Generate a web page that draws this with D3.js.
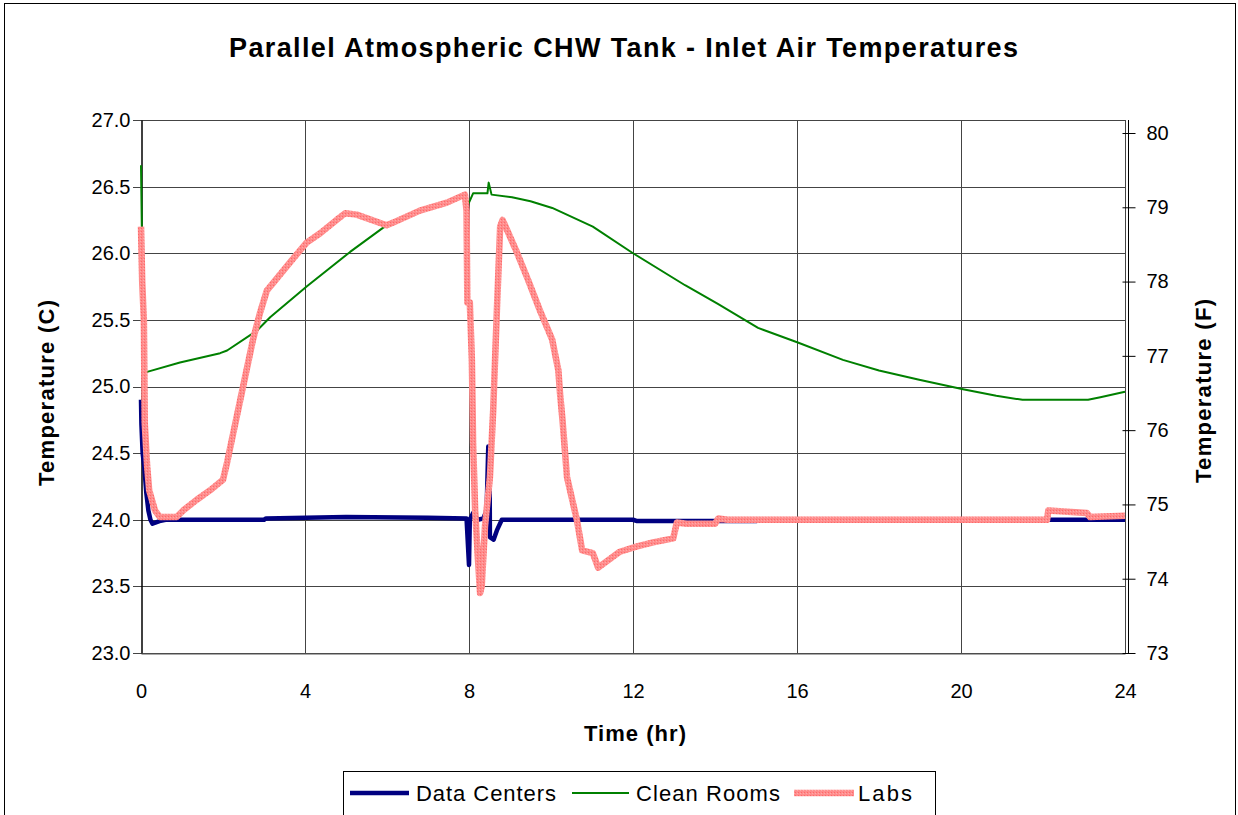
<!DOCTYPE html>
<html>
<head>
<meta charset="utf-8">
<script src="https://cdn.jsdelivr.net/npm/d3@7"></script>
<style>
  html, body { margin: 0; padding: 0; background: #fff; }
  svg { display: block; font-family: "Liberation Sans", Arial, sans-serif; }
</style>
</head>
<body>
<svg id="chart" width="1238" height="815"></svg>
<script>
// ---- data ----
const xTicks = [0, 4, 8, 12, 16, 20, 24];
const yTicksC = [23.0, 23.5, 24.0, 24.5, 25.0, 25.5, 26.0, 26.5, 27.0];
const yTicksF = [73, 74, 75, 76, 77, 78, 79, 80];
const seriesNames = ["Data Centers", "Clean Rooms", "Labs"];

const dataCentersT = [0, 0.01, 0.04, 0.08, 0.13, 0.18, 0.23, 0.28, 0.45, 0.6, 3.0, 3.05, 5.0, 7.0, 7.94, 8.0, 8.02, 8.1, 8.22, 8.35, 8.43, 8.47, 8.5, 8.51, 8.6, 8.68, 8.8, 12.0, 12.1, 15.0, 15.1, 24.0];
const dataCentersV = [24.9, 24.72, 24.5, 24.4, 24.2, 24.07, 24.0, 23.97, 23.99, 24.0, 24.0, 24.01, 24.02, 24.015, 24.01, 23.66, 24.0, 24.05, 24.0, 24.01, 24.07, 24.55, 24.55, 23.87, 23.85, 23.92, 24.0, 24.0, 23.99, 23.99, 24.0, 24.0];

const cleanRoomsT = [0, 0.02, 0.1, 0.15, 0.95, 1.93, 2.1, 2.83, 3.15, 4.04, 5.1, 5.9, 6.8, 7.85, 8.0, 8.1, 8.45, 8.48, 8.55, 9.05, 9.5, 10.03, 11.02, 12.0, 13.27, 14.07, 15.05, 16.02, 17.12, 18.0, 18.98, 20.05, 20.86, 21.5, 23.1, 23.4, 24.0];
const cleanRoomsV = [26.66, 26.2, 25.11, 25.11, 25.18, 25.25, 25.27, 25.42, 25.52, 25.75, 26.01, 26.19, 26.32, 26.42, 26.38, 26.45, 26.45, 26.53, 26.44, 26.42, 26.39, 26.34, 26.2, 26.0, 25.76, 25.62, 25.44, 25.33, 25.2, 25.12, 25.05, 24.98, 24.93, 24.9, 24.9, 24.92, 24.96];

const labsT = [0, 0.03, 0.07, 0.09, 0.15, 0.2, 0.34, 0.46, 0.87, 1.03, 1.36, 1.68, 2.0, 2.1, 2.25, 2.49, 2.73, 2.9, 3.07, 3.23, 3.63, 4.04, 4.37, 4.77, 4.98, 5.26, 5.99, 6.15, 6.8, 7.46, 7.9, 7.94, 7.96, 8.02, 8.07, 8.1, 8.15, 8.22, 8.27, 8.31, 8.39, 8.51, 8.59, 8.68, 8.76, 8.82, 9.15, 9.44, 9.73, 10.03, 10.18, 10.22, 10.28, 10.39, 10.63, 10.76, 11.02, 11.15, 11.68, 12.1, 12.49, 12.98, 13.07, 13.3, 14.0, 14.08, 14.3, 22.1, 22.13, 23.07, 23.15, 24.0];
const labsV = [26.2, 25.78, 25.5, 24.73, 24.4, 24.22, 24.07, 24.02, 24.02, 24.07, 24.15, 24.22, 24.3, 24.43, 24.65, 25.0, 25.35, 25.55, 25.72, 25.78, 25.93, 26.08, 26.15, 26.25, 26.3, 26.29, 26.21, 26.23, 26.32, 26.38, 26.44, 26.32, 25.63, 25.63, 25.2, 24.58, 24.07, 23.7, 23.45, 23.5, 23.95, 24.32, 24.82, 25.57, 26.2, 26.25, 26.02, 25.8, 25.57, 25.35, 25.12, 24.95, 24.75, 24.32, 24.0, 23.77, 23.75, 23.64, 23.76, 23.8, 23.83, 23.86, 23.98, 23.97, 23.97, 24.01, 24.0, 24.0, 24.07, 24.05, 24.02, 24.03];

// ---- layout ----
const svg = d3.select("#chart");
const L = 141, R = 1125, T = 120, B = 653;
const x = d3.scaleLinear().domain([0, 24]).range([L, R]);
const y = d3.scaleLinear().domain([23, 27]).range([B, T]);
const yF = d3.scaleLinear().domain([73, 80.175]).range([B, T]);

// patterned stroke for Labs
const defs = svg.append("defs");
const pat = defs.append("pattern").attr("id", "labsPat").attr("patternUnits", "userSpaceOnUse")
  .attr("width", 3).attr("height", 3);
pat.append("rect").attr("width", 3).attr("height", 3).attr("fill", "#ff8c8c");
pat.append("rect").attr("x", 0).attr("y", 0).attr("width", 1).attr("height", 1).attr("fill", "#ff6868");
pat.append("rect").attr("x", 2).attr("y", 1).attr("width", 1).attr("height", 1).attr("fill", "#ffaaaa");

// outer border
svg.append("rect").attr("x", 4.5).attr("y", 3.5).attr("width", 1231).attr("height", 830)
  .attr("fill", "none").attr("stroke", "#000").attr("stroke-width", 1);

// gridlines
const gridColor = "#444";
svg.append("g").selectAll("line.h").data(yTicksC).join("line")
  .attr("x1", L - 8).attr("x2", R).attr("y1", d => Math.round(y(d)) + 0.5).attr("y2", d => Math.round(y(d)) + 0.5)
  .attr("stroke", gridColor).attr("stroke-width", 1);
svg.append("g").selectAll("line.v").data(xTicks.filter(d => d > 0 && d < 24)).join("line")
  .attr("x1", d => Math.round(x(d)) + 0.5).attr("x2", d => Math.round(x(d)) + 0.5).attr("y1", T).attr("y2", B)
  .attr("stroke", gridColor).attr("stroke-width", 1);
// plot border right
svg.append("line").attr("x1", R + 0.5).attr("x2", R + 0.5).attr("y1", T).attr("y2", B).attr("stroke", gridColor);

// left axis
const yAxis = d3.axisLeft(y).tickValues(yTicksC).tickFormat(d3.format(".1f")).tickSize(0).tickPadding(11);
const gy = svg.append("g").attr("transform", `translate(${L + 0.5},0)`).call(yAxis);
gy.select(".domain").attr("stroke", "#000").attr("stroke-width", 1.5);
gy.selectAll("text").attr("font-size", 20).attr("fill", "#000").attr("font-family", "Liberation Sans, Arial, sans-serif");

// bottom axis
const xAxis = d3.axisBottom(x).tickValues(xTicks).tickFormat(d3.format("d")).tickSize(0).tickPadding(30);
const gx = svg.append("g").attr("transform", `translate(0,${B + 0.5})`).call(xAxis);
gx.select(".domain").attr("stroke", "#555");
gx.selectAll("text").attr("font-size", 20).attr("fill", "#000").attr("font-family", "Liberation Sans, Arial, sans-serif");

// right axis
const RA = 1128;
const yAxisR = d3.axisRight(yF).tickValues(yTicksF).tickFormat(d3.format("d")).tickSize(7).tickPadding(11);
const gr = svg.append("g").attr("transform", `translate(${RA + 0.5},0)`).call(yAxisR);
gr.select(".domain").attr("stroke", "#000").attr("d", `M0,${T}V${B}`);
gr.selectAll(".tick line").attr("x1", -6).attr("x2", 7).attr("stroke", "#000");
gr.selectAll("text").attr("font-size", 20).attr("fill", "#000").attr("font-family", "Liberation Sans, Arial, sans-serif");

// lines
const mk = (T_, V_) => T_.map((t, i) => [t, V_[i]]);
const line = d3.line().x(d => x(d[0])).y(d => y(d[1]));
const series = [
  { name: seriesNames[0], data: mk(dataCentersT, dataCentersV), stroke: "#000080", width: 4.5 },
  { name: seriesNames[1], data: mk(cleanRoomsT, cleanRoomsV), stroke: "#008000", width: 2 },
  { name: seriesNames[2], data: mk(labsT, labsV), stroke: "url(#labsPat)", width: 6.5 }
];
svg.append("g").selectAll("path").data(series).join("path")
  .attr("d", d => line(d.data))
  .attr("fill", "none")
  .attr("stroke", d => d.stroke)
  .attr("stroke-width", d => d.width)
  .attr("stroke-linejoin", "round");

// titles
svg.append("text").attr("x", 623.5).attr("y", 57).attr("text-anchor", "middle")
  .attr("font-size", 27).attr("font-weight", "bold")
  .attr("textLength", 789).attr("lengthAdjust", "spacing")
  .text("Parallel Atmospheric CHW Tank - Inlet Air Temperatures");
svg.append("text").attr("x", 635).attr("y", 741).attr("text-anchor", "middle")
  .attr("font-size", 22).attr("font-weight", "bold")
  .attr("textLength", 102).attr("lengthAdjust", "spacing").text("Time (hr)");
svg.append("text").attr("transform", "translate(54,393) rotate(-90)").attr("text-anchor", "middle")
  .attr("font-size", 22).attr("font-weight", "bold")
  .attr("textLength", 186).attr("lengthAdjust", "spacing").text("Temperature (C)");
svg.append("text").attr("transform", "translate(1211,391) rotate(-90)").attr("text-anchor", "middle")
  .attr("font-size", 22).attr("font-weight", "bold")
  .attr("textLength", 184).attr("lengthAdjust", "spacing").text("Temperature (F)");

// legend
const lg = svg.append("g");
lg.append("rect").attr("x", 343.5).attr("y", 771.5).attr("width", 592).attr("height", 50)
  .attr("fill", "#fff").attr("stroke", "#000");
const legendPos = [
  { x0: 350, x1: 409, tx: 416, tl: 140 },
  { x0: 572, x1: 629, tx: 636, tl: 144 },
  { x0: 794, x1: 854, tx: 858, tl: 54 }
];
series.forEach((s, i) => {
  const p = legendPos[i];
  lg.append("line").attr("x1", p.x0).attr("x2", p.x1).attr("y1", 793).attr("y2", 793)
    .attr("stroke", s.stroke).attr("stroke-width", s.width);
  lg.append("text").attr("x", p.tx).attr("y", 801).attr("font-size", 22)
    .attr("textLength", p.tl).attr("lengthAdjust", "spacing").text(s.name);
});
</script>
</body>
</html>
